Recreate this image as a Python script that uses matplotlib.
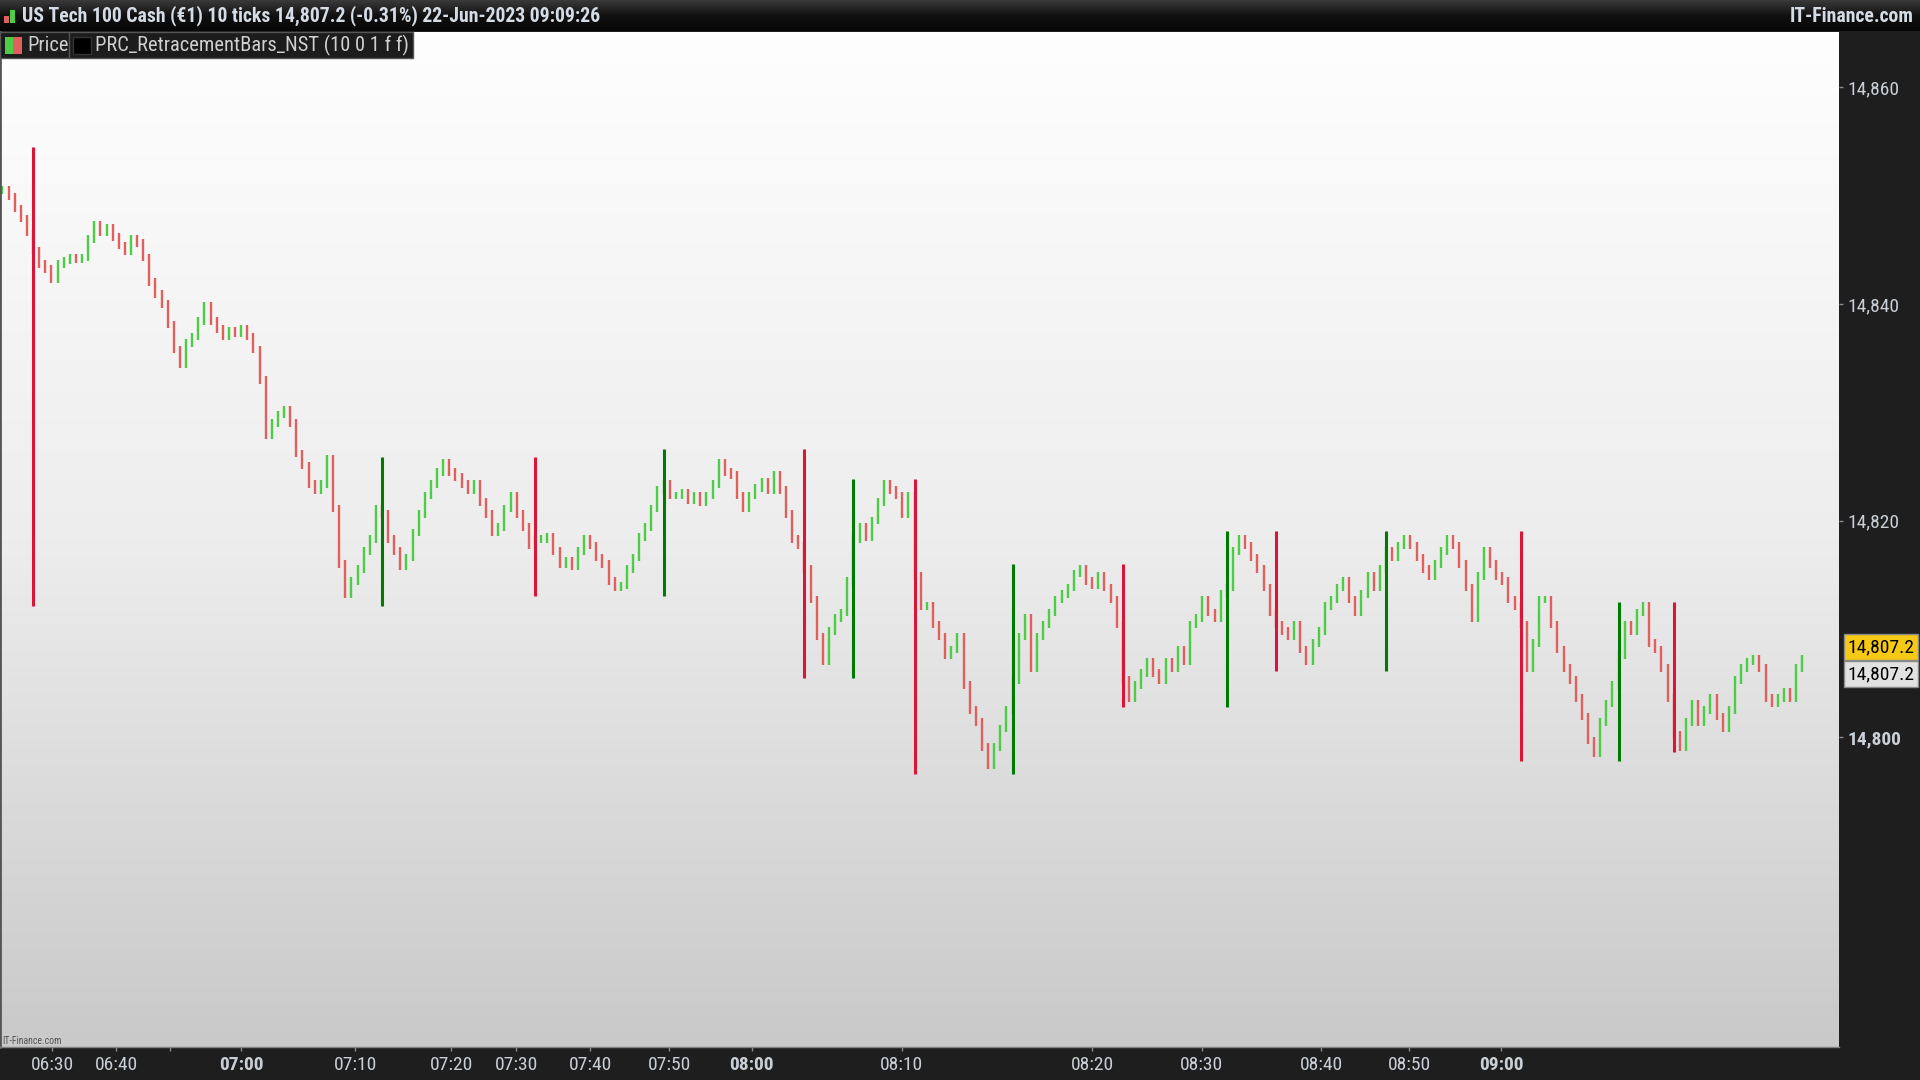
import matplotlib
matplotlib.use("Agg")
import matplotlib.pyplot as plt
import numpy as np
from matplotlib import font_manager
from matplotlib.colors import LinearSegmentedColormap
from matplotlib.patches import Rectangle


def pick_font(names):
    for n in names:
        try:
            font_manager.findfont(font_manager.FontProperties(family=n), fallback_to_default=False)
            return n
        except ValueError:
            pass
    return "DejaVu Sans"


NARROW = pick_font(["Liberation Sans Narrow", "Roboto Condensed", "Liberation Sans"])

# closing prices of the 10-tick bars (resampled)
closes = [
    14850.5, 14849.9, 14848.8, 14847.9, 14846.6, 14844.9, 14843.7, 14843.2, 14842.3, 14843.7,
    14844.0, 14844.3, 14844.1, 14844.3, 14846.0, 14847.3, 14846.6, 14847.0, 14846.2, 14845.4,
    14844.9, 14846.0, 14845.6, 14844.3, 14842.0, 14840.9, 14840.0, 14838.1, 14835.8, 14834.4,
    14836.4, 14837.0, 14838.4, 14839.8, 14838.4, 14837.7, 14837.0, 14837.5, 14837.3, 14837.7,
    14837.0, 14835.8, 14833.0, 14827.9, 14829.0, 14829.8, 14830.2, 14829.0, 14826.2, 14825.1,
    14823.4, 14822.8, 14823.4, 14825.7, 14821.1, 14816.0, 14813.2, 14814.4, 14815.5, 14817.2,
    14818.3, 14821.1, 14820.6, 14818.3, 14817.2, 14815.8, 14816.6, 14818.9, 14820.6, 14822.3,
    14823.4, 14824.5, 14825.3, 14824.5, 14824.0, 14823.4, 14822.8, 14823.4, 14821.7, 14820.6,
    14818.9, 14819.4, 14821.1, 14822.3, 14820.6, 14819.4, 14817.7, 14818.3, 14818.3, 14818.5,
    14817.2, 14816.0, 14816.3, 14815.8, 14817.2, 14818.3, 14817.7, 14816.6, 14816.0, 14814.4,
    14813.8, 14814.0, 14815.5, 14816.6, 14818.5, 14819.4, 14821.1, 14822.8, 14823.4, 14822.3,
    14822.3, 14822.6, 14821.9, 14822.3, 14821.7, 14822.3, 14823.4, 14825.3, 14824.5, 14824.2,
    14822.3, 14821.1, 14822.3, 14823.0, 14823.6, 14822.8, 14824.2, 14822.8, 14820.6, 14818.3,
    14817.7, 14815.5, 14812.7, 14809.3, 14807.0, 14809.8, 14811.0, 14811.5, 14814.4, 14818.3,
    14819.4, 14818.5, 14820.0, 14821.7, 14823.4, 14822.8, 14822.3, 14820.6, 14822.3, 14814.9,
    14812.1, 14812.1, 14810.4, 14809.3, 14807.6, 14808.1, 14809.3, 14804.8, 14802.5, 14801.4,
    14799.1, 14797.4, 14799.1, 14800.8, 14802.5, 14805.3, 14809.3, 14811.0, 14806.4, 14809.3,
    14810.4, 14811.5, 14812.7, 14813.2, 14813.8, 14815.1, 14815.5, 14814.4, 14814.0, 14814.9,
    14813.8, 14812.7, 14810.4, 14805.3, 14803.6, 14804.8, 14805.9, 14807.0, 14805.9, 14805.3,
    14807.0, 14806.4, 14808.1, 14807.0, 14810.4, 14811.0, 14812.7, 14811.5, 14811.0, 14813.2,
    14813.8, 14817.2, 14818.3, 14817.7, 14816.6, 14815.5, 14813.8, 14811.5, 14810.4, 14809.8,
    14809.3, 14810.4, 14808.1, 14807.0, 14808.7, 14809.8, 14812.1, 14812.7, 14813.8, 14814.4,
    14812.7, 14811.5, 14813.2, 14814.9, 14813.8, 14815.5, 14817.2, 14816.6, 14817.7, 14818.3,
    14817.7, 14816.6, 14815.5, 14814.9, 14816.0, 14817.2, 14818.3, 14817.7, 14816.0, 14813.8,
    14811.0, 14814.9, 14817.2, 14816.0, 14814.9, 14814.4, 14812.7, 14812.1, 14810.4, 14806.4,
    14808.7, 14812.7, 14812.7, 14810.4, 14808.1, 14806.4, 14805.3, 14803.6, 14801.9, 14799.7,
    14798.5, 14801.4, 14803.1, 14804.8, 14807.6, 14810.4, 14809.8, 14811.5, 14812.1, 14808.7,
    14808.1, 14806.4, 14803.6, 14800.2, 14799.1, 14801.4, 14803.1, 14801.4, 14802.5, 14803.6,
    14801.9, 14800.8, 14802.5, 14805.3, 14806.4, 14807.0, 14807.2, 14806.4, 14803.6, 14803.1,
    14803.6, 14804.2, 14803.6, 14806.4, 14807.2,
]

# PRC_RetracementBars_NST signals: bar index, range and direction
rb_idx = [5, 62, 87, 108, 131, 139, 149, 165, 183, 200, 208, 226, 248, 264, 273]
rb_high = [14854.5, 14825.9, 14825.9, 14826.6, 14826.6, 14823.8, 14823.8, 14816.0,
           14816.0, 14819.0, 14819.0, 14819.0, 14819.0, 14812.5, 14812.5]
rb_low = [14812.1, 14812.1, 14813.0, 14813.0, 14805.5, 14805.5, 14796.6, 14796.6,
          14802.8, 14802.8, 14806.1, 14806.1, 14797.8, 14797.8, 14798.6]
rb_up = [False, True, False, True, False, True, False, True,
         False, True, False, True, False, True, False]

# time axis (bar index where each label falls)
time_pos = [8.1, 18.6, 27.4, 39.0, 57.6, 73.3, 83.9, 96.0, 108.9, 122.4,
            146.9, 178.0, 195.9, 215.4, 229.8, 244.8]
time_lbl = ["06:30", "06:40", "", "07:00", "07:10", "07:20", "07:30", "07:40", "07:50",
            "08:00", "08:10", "08:20", "08:30", "08:40", "08:50", "09:00"]
price_ticks = [14800, 14820, 14840, 14860]

last_price = 14807.2
title = "US Tech 100 Cash (\u20ac1) 10 ticks 14,807.2 (-0.31%) 22-Jun-2023 09:09:26"

GREEN = "#4ccd45"
RED = "#e0605e"
DARK = "#1e1e1e"
FG = "#c9cfd6"
FONTS = [NARROW, "DejaVu Sans"]

W, H = 1920, 1080
fig = plt.figure(figsize=(W / 100, H / 100), dpi=100, facecolor=DARK)

# main price pane
ax = fig.add_axes([0, 33 / H, 1839 / W, 1015 / H])
bg = LinearSegmentedColormap.from_list("bg", ["#fefefe", "#ededed", "#c9c9c9"])
ax.imshow(np.linspace(0, 1, 256).reshape(-1, 1), cmap=bg, aspect="auto",
          extent=[0, 1, 0, 1], transform=ax.transAxes, zorder=0)

c = np.array(closes)
o = np.r_[c[0], c[:-1]]
idx = np.arange(len(c))
# small wick beyond open/close so neighbouring bars overlap
lo = np.minimum(o, c) - 0.35
hi = np.maximum(o, c) + 0.35
up = c >= o
ax.vlines(idx[up], lo[up], hi[up], color=GREEN, lw=1.7, zorder=2)
ax.vlines(idx[~up], lo[~up], hi[~up], color=RED, lw=1.7, zorder=2)

for i, h, l, u in zip(rb_idx, rb_high, rb_low, rb_up):
    ax.vlines(i, l, h, color="#007a00" if u else "#dc1438", lw=2.2, zorder=3)

ax.set_xlim(-0.4, 300.0)
ax.set_ylim(14771.4, 14865.1)

ax.yaxis.tick_right()
ax.set_yticks(price_ticks)
ax.set_yticklabels([f"{p:,}" for p in price_ticks])
ax.tick_params(axis="y", length=3, width=1, color="#8a8a8a", labelcolor=FG,
               pad=3, labelsize=14)
for t in ax.get_yticklabels():
    t.set_fontfamily(FONTS)
    if t.get_text() == "14,800":
        t.set_fontweight("bold")

ax.set_xticks(time_pos)
ax.set_xticklabels(time_lbl)
ax.tick_params(axis="x", length=3, width=1, color="#8a8a8a", labelcolor=FG,
               pad=3.5, labelsize=14)
for t in ax.get_xticklabels():
    t.set_fontfamily(FONTS)
    if t.get_text().endswith(":00"):
        t.set_fontweight("bold")

for s in ["top", "right"]:
    ax.spines[s].set_visible(False)
ax.spines["left"].set_color("#555555")
ax.spines["left"].set_linewidth(2)
ax.spines["bottom"].set_color("#808080")
ax.spines["bottom"].set_linewidth(1)

# overlay in pixel coordinates for the chrome
ov = fig.add_axes([0, 0, 1, 1], zorder=5)
ov.patch.set_alpha(0)
ov.axis("off")
bar_cm = LinearSegmentedColormap.from_list("tb", ["#3a3a3a", "#111111", "#060606"])
ov.imshow(np.linspace(0, 1, 64).reshape(-1, 1), cmap=bar_cm, aspect="auto",
          extent=[0, W, 31, 0], zorder=0)
ov.set_xlim(0, W)
ov.set_ylim(H, 0)

# title icon
ov.add_patch(Rectangle((4, 16), 5, 7, facecolor=RED, edgecolor="none"))
ov.add_patch(Rectangle((10, 10), 5, 13, facecolor=GREEN, edgecolor="none"))
ov.text(22, 16, title, color="#d4dce6", fontsize=14.2, fontweight="bold",
        family=FONTS, va="center", ha="left")
ov.text(1914, 16, "IT-Finance.com", color="#d4dce6", fontsize=14.2, fontweight="bold",
        family=FONTS, va="center", ha="right")

# legend box
ov.add_patch(Rectangle((0, 32), 413, 26, facecolor="#1c1c1c", edgecolor="#555555", lw=1))
ov.plot([69, 69], [32, 58], color="#555555", lw=1)
ov.add_patch(Rectangle((5, 37), 8, 17, facecolor=GREEN, edgecolor="none"))
ov.add_patch(Rectangle((13, 37), 9, 17, facecolor=RED, edgecolor="none"))
ov.text(27, 45.5, "Price", color="#d0d0d0", fontsize=14.8,
        family=FONTS, va="center", ha="left")
ov.add_patch(Rectangle((73, 37), 18, 17, facecolor="#000000", edgecolor="#333333"))
ov.text(95, 45.5, "PRC_RetracementBars_NST (10 0 1 f f)", color="#d0d0d0", fontsize=14.8,
        family=FONTS, va="center", ha="left")

# last price boxes
ov.add_patch(Rectangle((1844, 634), 74, 26, facecolor="#f6c915", edgecolor="#8a8a8a", lw=1))
ov.text(1881, 647.5, f"{last_price:,.1f}", color="#000000", fontsize=14,
        family=FONTS, va="center", ha="center")
ov.add_patch(Rectangle((1844, 661), 74, 26, facecolor="#e2e2e2", edgecolor="#8a8a8a", lw=1))
ov.text(1881, 674.5, f"{last_price:,.1f}", color="#000000", fontsize=14,
        family=FONTS, va="center", ha="center")

ov.text(2, 1041, "IT-Finance.com", color="#555555", fontsize=7,
        family=FONTS, va="center", ha="left")

fig.savefig("out.png", dpi=100, facecolor=DARK)
